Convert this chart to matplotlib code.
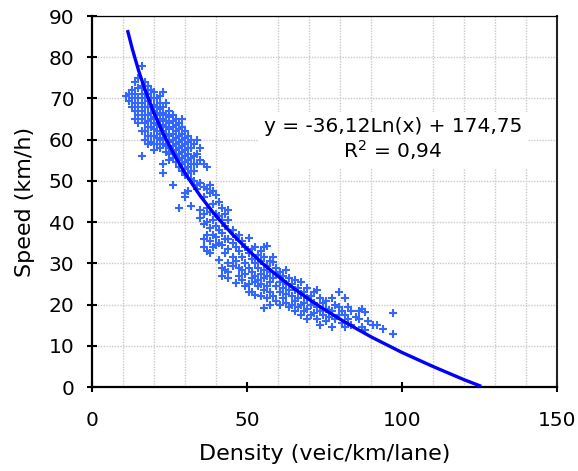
import matplotlib.pyplot as plt
from matplotlib.ticker import MultipleLocator

# observed points, written column by column (density, speed)
density = [
    11,
    12, 12,
    13, 13, 13,
    14, 14, 14, 14, 14,
    15, 15, 15, 15, 15, 15,
    16, 16, 16, 16, 16, 16, 16, 16,
    17, 17, 17, 17, 17, 17, 17, 17,
    18, 18, 18, 18, 18, 18, 18, 18, 18,
    19, 19, 19, 19, 19, 19, 19, 19,
    20, 20, 20, 20, 20, 20, 20, 20, 20, 20,
    21, 21, 21, 21, 21, 21, 21, 21,
    22, 22, 22, 22, 22, 22, 22, 22, 22,
    23, 23, 23, 23, 23, 23, 23, 23, 23, 23,
    24, 24, 24, 24, 24, 24, 24, 24,
    25, 25, 25, 25, 25, 25, 25, 25, 25,
    26, 26, 26, 26, 26, 26, 26, 26, 26,
    27, 27, 27, 27, 27, 27, 27, 27,
    28, 28, 28, 28, 28, 28, 28, 28, 28,
    29, 29, 29, 29, 29, 29, 29, 29, 29,
    30, 30, 30, 30, 30, 30, 30, 30, 30, 30,
    31, 31, 31, 31, 31, 31, 31, 31,
    32, 32, 32, 32, 32, 32, 32,
    33, 33, 33, 33, 33,
    34, 34, 34, 34, 34,
    35, 35, 35, 35, 35,
    36, 36, 36, 36, 36, 36, 36,
    37, 37, 37, 37, 37, 37,
    38, 38, 38, 38, 38, 38,
    39, 39, 39, 39, 39,
    40, 40, 40, 40, 40,
    41, 41, 41, 41, 41,
    42, 42, 42, 42, 42, 42,
    43, 43, 43, 43, 43,
    44, 44, 44, 44, 44, 44, 44,
    45.5, 45.5, 45.5, 45.5,
    46.5, 46.5, 46.5, 46.5,
    47.5, 47.5, 47.5, 47.5,
    48.5, 48.5, 48.5, 48.5,
    49.5, 49.5, 49.5, 49.5,
    50.5, 50.5, 50.5, 50.5, 50.5,
    51.5, 51.5, 51.5, 51.5, 51.5,
    52.5, 52.5, 52.5, 52.5, 52.5,
    53.5, 53.5, 53.5, 53.5,
    54.5, 54.5, 54.5, 54.5, 54.5,
    55.5, 55.5, 55.5, 55.5, 55.5, 55.5,
    56.5, 56.5, 56.5, 56.5, 56.5,
    57.5, 57.5, 57.5, 57.5, 57.5,
    58.5, 58.5, 58.5, 58.5,
    59.5, 59.5, 59.5, 59.5,
    60.5, 60.5, 60.5, 60.5,
    61.5, 61.5, 61.5,
    62.5, 62.5, 62.5, 62.5,
    63.5, 63.5, 63.5,
    64.5, 64.5, 64.5,
    65.5, 65.5, 65.5, 65.5,
    66.5, 66.5, 66.5,
    67.5, 67.5, 67.5, 67.5,
    68.5, 68.5, 68.5,
    69.5, 69.5, 69.5, 69.5,
    70.5, 70.5, 70.5,
    71.5, 71.5, 71.5,
    72.5, 72.5, 72.5,
    73.5, 73.5, 73.5,
    74.5, 74.5,
    75.5, 75.5, 75.5,
    76.5, 76.5,
    77.5, 77.5, 77.5,
    78.5, 78.5,
    79.5, 79.5, 79.5,
    80.5, 80.5,
    81.5, 81.5, 81.5,
    82.5, 82.5,
    83.5, 83.5,
    85,
    86, 86,
    87, 87,
    88, 88,
    89,
    90.5,
    92,
    94,
    97, 97,
]
speed = [
    70.5,
    71, 69.5,
    70, 68, 72,
    74, 71, 69, 67, 65,
    75, 72.5, 70, 68, 66, 64,
    78, 73, 71, 69, 67, 65, 62, 56,
    74, 72, 70, 68, 66, 64, 62, 60,
    73, 71, 69.5, 68, 66, 64.5, 63, 61, 59,
    72, 70, 68, 66.5, 65, 63, 61, 59.5,
    71.5, 70, 68.5, 67, 65.5, 64, 62.5, 61, 59, 57.5,
    70, 68, 66.5, 65, 63.5, 62, 60.5, 59,
    70.5, 69, 67.5, 66, 64.5, 63, 61.5, 60, 58,
    71.5, 68, 66.5, 65, 63.5, 62, 60.5, 59, 54, 52,
    69, 66, 64.5, 63, 61.5, 60, 58.5, 57,
    67, 65.5, 64, 62.5, 61, 59.5, 58, 56.5, 55,
    66, 64.5, 63, 61.5, 60, 58.5, 57, 55.5, 49,
    65, 63.5, 62, 60.5, 59, 57.5, 56, 54.5,
    64, 62.5, 61, 59.5, 58, 56.5, 55, 53.5, 43.5,
    65, 63, 61.5, 60, 58.5, 57, 55.5, 54, 52.5,
    62, 60.5, 59, 57.5, 56, 54.5, 53, 51.5, 47, 46,
    61, 59.5, 58, 56.5, 55, 53.5, 52, 47.5,
    60, 58, 55.5, 54, 52.5, 50.5, 44,
    59, 56, 54, 52.5, 50,
    60, 56.5, 54, 49, 48,
    58, 55, 49.5, 43, 41,
    54, 48.5, 46, 42, 39.5, 36, 34,
    53.5, 48, 43.5, 40, 37, 33,
    49, 47, 42.5, 38.5, 35.5, 32.5,
    47.5, 44.5, 40.5, 37, 34,
    46.5, 42, 39, 36.5, 34.5,
    45, 41.5, 38, 35, 30.8,
    43.5, 40.5, 37.5, 34.5, 29, 27,
    42, 39, 36, 32.5, 28.5,
    43, 40.5, 36, 33.5, 30, 28, 26.5,
    38, 35, 31.5, 29.5,
    36.5, 34, 30.5, 25.2,
    37, 33, 29, 27,
    35.5, 31.5, 28.5, 26,
    34, 30, 27.5, 24.5,
    36.2, 32.5, 29, 25, 23,
    33.5, 31, 28, 26.5, 23,
    34, 30, 27, 25.5, 22.3,
    32, 29, 26, 24.5,
    33, 30.5, 27.5, 25, 22,
    34, 31.5, 28.5, 26.5, 23.5, 19.2,
    34.2, 29.5, 27, 24.5, 21.5,
    30.5, 28, 25.5, 23, 19.9,
    31.5, 30.3, 26.5, 22,
    29, 27.5, 24.5, 21,
    28, 25.5, 23, 20,
    27, 24, 21.5,
    28.5, 25, 22.5, 20.5,
    26.5, 23.5, 19.5,
    25, 22, 20,
    26, 23.5, 21, 18.5,
    24, 21.5, 19.5,
    25.5, 22.5, 20, 17.5,
    23, 20.5, 18.5,
    24, 21.5, 19, 16.5,
    22, 20, 17.5,
    23, 20.5, 18,
    23.5, 19.5, 16.5,
    21.5, 18.5, 15,
    20.5, 17.5,
    21, 19, 16,
    18.7, 17,
    21.5, 18.5, 14.6,
    20, 16.5,
    23.1, 19.5, 17.5,
    18.5, 15.5,
    21.5, 17.5, 14.6,
    19.5, 16.5,
    18.5, 15,
    17,
    18.5, 16.5,
    19, 14.5,
    18.2, 13.8,
    16,
    15,
    15,
    14,
    18, 12.9,
]

# fitted trend line
fit_density = [11.6, 13, 15, 17, 20, 23, 26, 30, 35, 40, 45, 50, 55, 60,
               65, 70, 75, 80, 85, 90, 95, 100, 105, 110, 115, 120, 125]
fit_speed = [86.2, 82.1, 76.9, 72.4, 66.5, 61.5, 57.1, 51.9, 46.3, 41.5,
             37.3, 33.5, 30.0, 26.9, 24.0, 21.3, 18.8, 16.5, 14.3, 12.2,
             10.3, 8.4, 6.7, 5.0, 3.4, 1.8, 0.35]

eq_text = "y = -36,12Ln(x) + 174,75\nR$^2$ = 0,94"

plt.rcParams['font.family'] = ['DejaVu Sans']
plt.rcParams['mathtext.fontset'] = 'dejavusans'

fig = plt.figure(figsize=(5.78, 4.71), dpi=100)
ax = fig.add_axes([0.159, 0.178, 0.805, 0.788])

ax.plot(density, speed, linestyle='none', marker='+', color='#3366ff',
        markersize=5.5, markeredgewidth=1.5, zorder=3)
ax.plot(fit_density, fit_speed, color='#0000ff', linewidth=2.4, zorder=4)

ax.set_xlim(0, 150)
ax.set_ylim(0, 90)
ax.xaxis.set_major_locator(MultipleLocator(50))
ax.xaxis.set_minor_locator(MultipleLocator(10))
ax.yaxis.set_major_locator(MultipleLocator(10))

ax.grid(True, which='minor', axis='x', color='#c8c8c8', linestyle=(0, (1, 1)), linewidth=1)
ax.grid(True, which='major', axis='y', color='#c8c8c8', linestyle=(0, (1, 1)), linewidth=1)
ax.set_axisbelow(True)

ax.tick_params(axis='both', which='major', direction='inout', length=7, width=1.5,
               labelsize=14.5, color='black')
ax.tick_params(axis='x', which='major', pad=14)
ax.tick_params(axis='y', which='major', pad=9)
ax.tick_params(axis='x', which='minor', length=0)

for side in ['left', 'bottom']:
    ax.spines[side].set_linewidth(1.6)
ax.spines['top'].set_linewidth(0.9)
ax.spines['right'].set_linewidth(1.5)
ax.spines['right'].set_color('#222222')

ax.set_xlabel("Density (veic/km/lane)", fontsize=16, labelpad=10)
ax.set_ylabel("Speed (km/h)", fontsize=16, labelpad=10)

ax.text(97, 60, eq_text, fontsize=14.5, ha='center', va='center', multialignment='center',
        linespacing=1.1, zorder=5,
        bbox=dict(facecolor='white', edgecolor='none', pad=4))

fig.savefig("out.png", dpi=100)
